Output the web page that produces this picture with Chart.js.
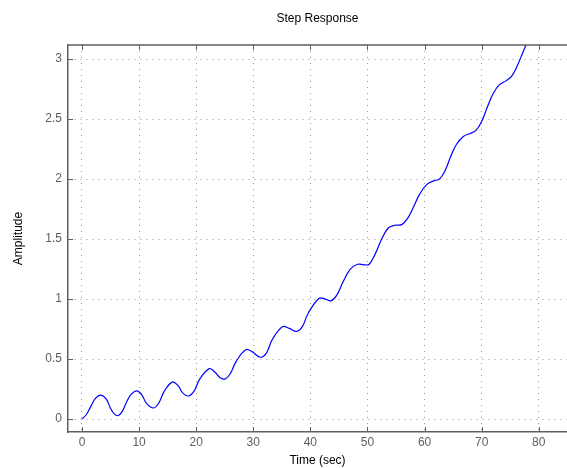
<!DOCTYPE html>
<html>
<head>
<meta charset="utf-8">
<script src="https://cdn.jsdelivr.net/npm/chart.js@4.4.1/dist/chart.umd.min.js"></script>
<style>
  html, body { margin: 0; padding: 0; background: #fff; }
</style>
</head>
<body>
<canvas id="stepChart" width="567" height="468"></canvas>
<script>
// Step response samples
const timeSec = [0, 0.8, 1.6, 2.4, 3.3, 4.2, 5.0, 5.6, 6.3, 7.0, 7.8, 8.6, 9.6, 10.5, 11.3, 12.5,
  13.4, 14.4, 15.8, 16.8, 17.6, 18.6, 19.6, 20.6, 22.3, 23.3, 24.2, 25.1, 26.0, 27.0, 28.7,
  29.8, 31.2, 32.3, 33.3, 35.1, 36.3, 37.6, 38.6, 39.6, 41.5, 42.6, 43.6, 44.6, 45.7, 47.0,
  48.3, 49.4, 50.3, 51.3, 52.4, 53.6, 54.8, 56.0, 57.0, 58.0, 59.1, 60.4, 61.6, 62.6, 63.6,
  64.6, 65.6, 66.8, 68.0, 69.0, 70.0, 71.0, 72.0, 73.0, 74.3, 75.3, 76.3, 77.0, 77.8];
const amplitude = [0, 0.04, 0.11, 0.175, 0.2, 0.17, 0.09, 0.045, 0.028, 0.06, 0.14, 0.205, 0.235, 0.2, 0.13, 0.092,
  0.13, 0.23, 0.308, 0.28, 0.22, 0.192, 0.23, 0.33, 0.42, 0.39, 0.345, 0.335, 0.38, 0.48, 0.578,
  0.56, 0.515, 0.55, 0.66, 0.77, 0.755, 0.73, 0.77, 0.88, 1.005, 1.0, 0.985, 1.03, 1.14, 1.25,
  1.29, 1.285, 1.29, 1.37, 1.49, 1.59, 1.615, 1.62, 1.67, 1.76, 1.87, 1.955, 1.985, 2.0, 2.07,
  2.19, 2.29, 2.355, 2.38, 2.405, 2.48, 2.6, 2.71, 2.78, 2.82, 2.86, 2.95, 3.03, 3.12];

const xTicks = [0, 10, 20, 30, 40, 50, 60, 70, 80];
const yTicks = [0, 0.5, 1, 1.5, 2, 2.5, 3];

const axisGray = '#5f5f5f';
const labelFont = { family: "'Liberation Sans', Arial, sans-serif", size: 12 };

// MATLAB style: box on top, ticks pointing inward
const matlabAxes = {
  id: 'matlabAxes',
  afterDraw(chart) {
    const { ctx, chartArea: a, scales: { x, y } } = chart;
    ctx.save();
    ctx.strokeStyle = axisGray;
    ctx.lineWidth = 1.5;
    ctx.beginPath();
    ctx.moveTo(a.left, a.top);
    ctx.lineTo(a.right, a.top);
    ctx.stroke();
    ctx.lineWidth = 1;
    ctx.beginPath();
    xTicks.forEach(v => {
      const px = Math.round(x.getPixelForValue(v)) + 0.5;
      ctx.moveTo(px, a.bottom); ctx.lineTo(px, a.bottom - 5);
      ctx.moveTo(px, a.top); ctx.lineTo(px, a.top + 5);
    });
    yTicks.forEach(v => {
      const py = Math.round(y.getPixelForValue(v)) + 0.5;
      ctx.moveTo(a.left, py); ctx.lineTo(a.left + 5, py);
    });
    ctx.stroke();
    ctx.restore();
  }
};

new Chart(document.getElementById('stepChart'), {
  type: 'line',
  data: {
    datasets: [{
      data: timeSec.map((t, i) => ({ x: t, y: amplitude[i] })),
      borderColor: '#0000ff',
      borderWidth: 1.2,
      pointRadius: 0,
      fill: false,
      tension: 0.4
    }]
  },
  options: {
    responsive: false,
    animation: false,
    layout: { padding: 0 },
    plugins: {
      legend: { display: false },
      tooltip: { enabled: false },
      title: {
        display: true,
        text: 'Step Response',
        fullSize: false,
        color: '#000',
        font: { ...labelFont, weight: 'normal' },
        padding: { top: 11, bottom: 19.6 }
      }
    },
    scales: {
      x: {
        type: 'linear',
        min: -2.45,
        max: 84.95,
        afterBuildTicks: s => { s.ticks = xTicks.map(v => ({ value: v })); },
        afterFit: s => { s.height = 36; },
        ticks: { color: axisGray, font: labelFont, padding: 3, maxRotation: 0, callback: v => String(v) },
        grid: { color: '#999', drawTicks: false, lineWidth: 1 },
        border: { color: axisGray, width: 1.5, dash: [1, 5] },
        title: { display: true, text: 'Time (sec)', color: '#000', font: labelFont, padding: 0 }
      },
      y: {
        min: -0.108,
        max: 3.117,
        afterBuildTicks: s => { s.ticks = yTicks.map(v => ({ value: v })); },
        afterFit: s => { s.width = 68; },
        ticks: { color: axisGray, font: labelFont, padding: 6, callback: v => String(v) },
        grid: { color: '#999', drawTicks: false, lineWidth: 1 },
        border: { color: axisGray, width: 1.5, dash: [1, 5] },
        title: { display: true, text: 'Amplitude', color: '#000', font: labelFont, padding: { top: 11, bottom: 0 } }
      }
    }
  },
  plugins: [matlabAxes]
});
</script>
</body>
</html>
